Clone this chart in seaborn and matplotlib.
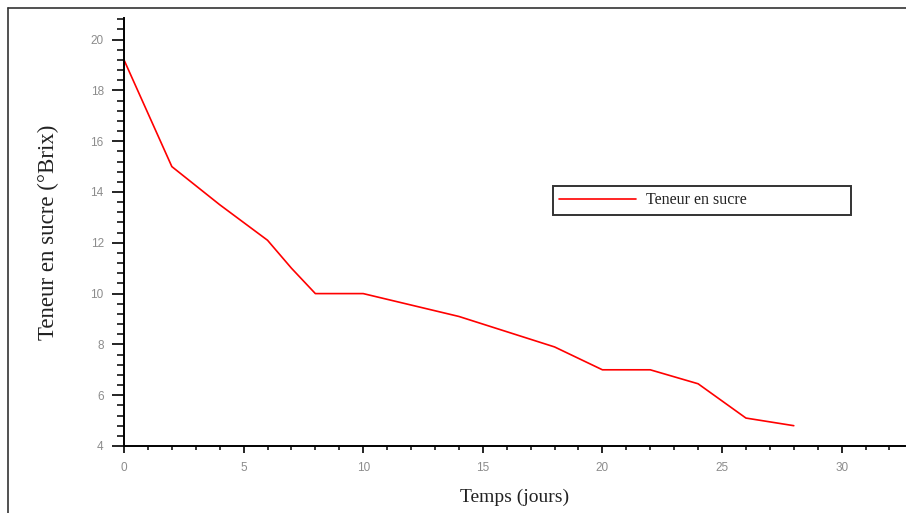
import matplotlib
matplotlib.use("Agg")
import matplotlib.pyplot as plt
from matplotlib.ticker import MultipleLocator
from matplotlib.lines import Line2D
import seaborn as sns
import pandas as pd

# Data
jours = [0, 2, 4, 6, 7, 8, 10, 12, 14, 16, 18, 20, 22, 24, 26, 28]
brix = [19.2, 15.0, 13.5, 12.1, 11.0, 10.0, 10.0, 9.55, 9.1, 8.5, 7.9, 7.0, 7.0, 6.45, 5.1, 4.8]
serie = "Teneur en sucre"
xticks = [0, 5, 10, 15, 20, 25, 30]
yticks = [4, 6, 8, 10, 12, 14, 16, 18, 20]

sns.set_style("ticks")
plt.rcParams["font.family"] = ["Liberation Sans", "DejaVu Sans"]

W, H = 906, 513
fig = plt.figure(figsize=(W / 100, H / 100), dpi=100)
ax = fig.add_axes([124 / W, (H - 446) / H, 781 / W, 428 / H])

df = pd.DataFrame({"Temps": jours, "Brix": brix, "serie": serie})
sns.lineplot(data=df, x="Temps", y="Brix", color="#ff0000", linewidth=1.2,
             label=serie, ax=ax, legend=True)

ax.set_xlim(0, 32.65)
ax.set_ylim(4, 20.85)
ax.set_xticks(xticks)
ax.set_yticks(yticks)
ax.xaxis.set_minor_locator(MultipleLocator(1))
ax.yaxis.set_minor_locator(MultipleLocator(0.4))

for s in ["top", "right"]:
    ax.spines[s].set_visible(False)
for s in ["left", "bottom"]:
    ax.spines[s].set_color("black")
    ax.spines[s].set_linewidth(1.4)

ax.tick_params(axis="x", which="major", direction="out", length=5.2, width=1.2,
               color="black", labelsize=8.5, labelcolor="#8c8c8c", pad=6)
ax.tick_params(axis="x", which="minor", direction="out", length=3, width=1.1, color="black")
ax.tick_params(axis="y", which="major", direction="out", length=8.6, width=1.2,
               color="black", labelsize=8.5, labelcolor="#8c8c8c", pad=6)
ax.tick_params(axis="y", which="minor", direction="out", length=5, width=1.1, color="black")

ax.set_xlabel("Temps (jours)", fontsize=14, family=["Liberation Serif", "DejaVu Serif"],
              color="#222222")
ax.xaxis.set_label_coords(0.5, (446 - 497) / 428)
ax.xaxis.label.set_va("center")
ax.set_ylabel("Teneur en sucre (°Brix)", fontsize=16.5,
              family=["Liberation Serif", "DejaVu Serif"], color="#222222")
ax.yaxis.set_label_coords((48 - 124) / 781, 0.5)
ax.yaxis.label.set_va("center")

leg = ax.legend(loc="center left",
                bbox_to_anchor=(553 / W, (H - 214) / H, 298 / W, 27 / H),
                bbox_transform=fig.transFigure, mode="expand", borderaxespad=0,
                frameon=True, fancybox=False, shadow=False,
                handlelength=4.8, handletextpad=0.65, borderpad=0.4,
                prop={"family": ["Liberation Serif", "DejaVu Serif"], "size": 11.5})
leg.get_frame().set_edgecolor("black")
leg.get_frame().set_linewidth(1.4)
for t in leg.get_texts():
    t.set_color("#222222")

# screenshot frame (left and top edges)
fig.add_artist(Line2D([8 / W, 8 / W], [0, 1 - 8 / H], transform=fig.transFigure,
                      color="#333333", linewidth=1.2))
fig.add_artist(Line2D([8 / W, 1], [1 - 8 / H, 1 - 8 / H], transform=fig.transFigure,
                      color="#333333", linewidth=1.2))

fig.savefig("out.png", dpi=100)
